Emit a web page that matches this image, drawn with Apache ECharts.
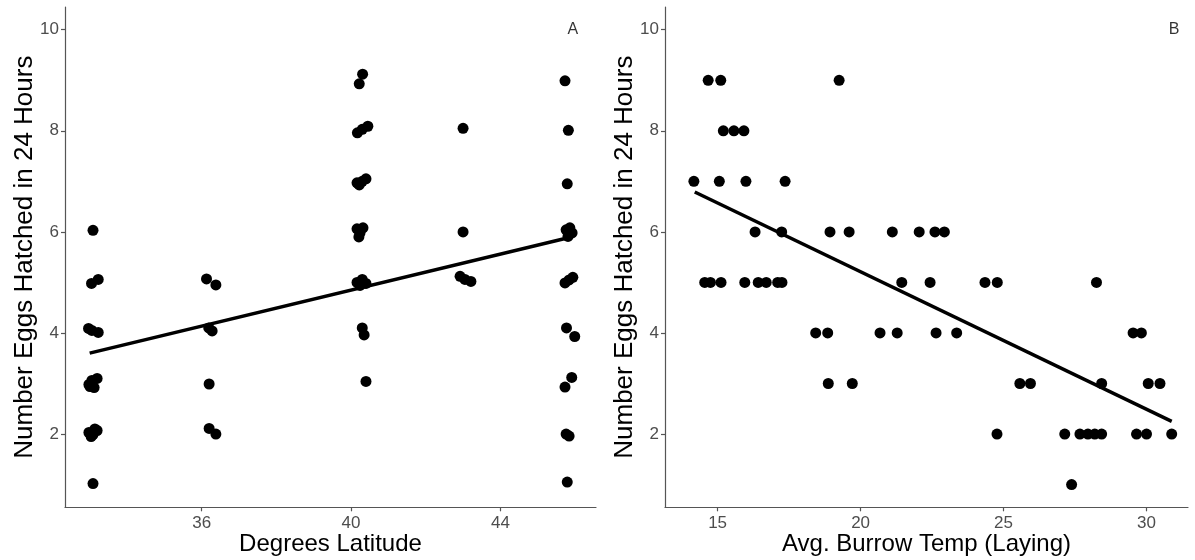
<!DOCTYPE html>
<html><head><meta charset="utf-8">
<script src="https://cdn.jsdelivr.net/npm/echarts@6/dist/echarts.min.js"></script>
<style>html,body{margin:0;padding:0;background:#fff}#c{width:1195px;height:560px}</style>
</head><body><div id="c"></div>
<script>
// Panel A: latitude vs eggs hatched
const latitude = [
  33.09, 33.05, 33.23, 32.97, 33.06, 33.23, 32.98, 33.06, 33.20, 33.12, 33.01,
  32.98, 33.09, 33.20, 33.04, 33.14, 33.09,
  36.13, 36.38, 36.19, 36.28, 36.20, 36.20, 36.38,
  40.31, 40.22, 40.17, 40.30, 40.45, 40.16, 40.30, 40.40, 40.22,
  40.16, 40.24, 40.21, 40.32, 40.16, 40.30, 40.40, 40.24, 40.30, 40.35, 40.40,
  43.00, 43.00, 42.92, 43.05, 43.21,
  45.73, 45.82, 45.79, 45.76, 45.92, 45.81, 45.86, 45.73, 45.94, 45.84,
  45.77, 45.99, 45.73, 45.91, 45.76, 45.84, 45.79
];
const latEggs = [
  6.03, 4.98, 5.06, 4.09, 4.05, 4.01, 2.98, 3.06, 3.10, 2.92, 2.94,
  2.03, 1.99, 2.07, 1.95, 2.10, 1.02,
  5.07, 4.95, 4.10, 4.04, 2.99, 2.11, 2.00,
  9.12, 8.93, 7.96, 8.03, 8.09, 6.97, 7.00, 7.05, 6.93,
  6.06, 5.98, 5.90, 6.08, 5.00, 5.06, 4.98, 4.94, 4.10, 3.96, 3.04,
  8.05, 6.00, 5.12, 5.06, 5.02,
  8.99, 8.01, 6.95, 6.04, 5.98, 5.91, 6.08, 4.99, 5.10, 5.05,
  4.10, 3.93, 2.93, 3.12, 2.00, 1.96, 1.05
];
const latFitX = [33.0, 45.9];
const latFitY = [3.6, 5.9];

// Panel B: burrow temperature vs eggs hatched
const burrowTemp = [
  14.67, 15.11, 19.25,
  15.20, 15.57, 15.92,
  14.17, 15.06, 15.99, 17.36,
  16.31, 17.24, 18.93, 19.60, 21.11, 22.05, 22.60, 22.93,
  14.55, 14.75, 15.12, 15.95, 16.42, 16.70, 17.10, 17.25, 21.44, 22.43, 24.35, 24.78, 28.25,
  18.43, 18.85, 20.68, 21.28, 22.64, 23.36, 29.53, 29.82,
  18.87, 19.71, 25.57, 25.94, 28.43, 30.06, 30.47,
  24.77, 27.14, 27.67, 27.95, 28.19, 28.43, 29.65, 30.00, 30.88,
  27.38
];
const tempEggs = [
  9, 9, 9,
  8, 8, 8,
  7, 7, 7, 7,
  6, 6, 6, 6, 6, 6, 6, 6,
  5, 5, 5, 5, 5, 5, 5, 5, 5, 5, 5, 5, 5,
  4, 4, 4, 4, 4, 4, 4, 4,
  3, 3, 3, 3, 3, 3, 3,
  2, 2, 2, 2, 2, 2, 2, 2, 2,
  1
];
const tempFitX = [14.2, 30.88];
const tempFitY = [6.79, 2.25];

// Tick labels
const yTicks = [2, 4, 6, 8, 10];
const latTicks = [36, 40, 44];
const tempTicks = [15, 20, 25, 30];
const panelTags = ['A', 'B'];

const font = "'Liberation Sans', Arial, Helvetica, sans-serif";
const pairs = (xs, ys) => xs.map((x, i) => [x, ys[i]]);

function xAxisDef(gi, min, max, ticks, name) {
  return {
    gridIndex: gi, type: 'value', min: min, max: max,
    splitLine: { show: false },
    axisLine: { lineStyle: { color: '#555', width: 1.2 } },
    axisTick: { length: 4, customValues: ticks, lineStyle: { color: '#555', width: 1.2 } },
    axisLabel: { customValues: ticks, color: '#4d4d4d', fontSize: 17, margin: 8, fontFamily: font },
    name: name, nameLocation: 'middle', nameGap: 25, nameMoveOverlap: false,
    nameTextStyle: { fontSize: 24, color: '#000', fontFamily: font }
  };
}
function yAxisDef(gi) {
  return {
    gridIndex: gi, type: 'value', min: 0.55, max: 10.45,
    splitLine: { show: false },
    axisLine: { lineStyle: { color: '#555', width: 1.2 } },
    axisTick: { length: 4, customValues: yTicks, lineStyle: { color: '#555', width: 1.2 } },
    axisLabel: { customValues: yTicks, color: '#4d4d4d', fontSize: 17, margin: 6, fontFamily: font },
    name: 'Number Eggs Hatched in 24 Hours', nameLocation: 'middle', nameGap: 27, nameMoveOverlap: false,
    nameTextStyle: { fontSize: 26, color: '#000', fontFamily: font }
  };
}
function pointSeries(gi, xs, ys) {
  return { type: 'scatter', xAxisIndex: gi, yAxisIndex: gi, data: pairs(xs, ys),
    symbolSize: 11, itemStyle: { color: '#000', opacity: 1 }, silent: true };
}
function fitSeries(gi, xs, ys) {
  return { type: 'line', xAxisIndex: gi, yAxisIndex: gi, data: pairs(xs, ys),
    showSymbol: false, symbol: 'none', lineStyle: { color: '#000', width: 3.5 }, silent: true, z: 3 };
}
function tagSeries(gi, x, tag) {
  return { type: 'scatter', xAxisIndex: gi, yAxisIndex: gi, data: [[x, 10]], symbolSize: 1,
    itemStyle: { color: 'rgba(0,0,0,0)' }, silent: true,
    label: { show: true, position: 'inside', formatter: tag, color: '#000', fontSize: 16, fontFamily: font } };
}

const chart = echarts.init(document.getElementById('c'));
chart.setOption({
  animation: false,
  backgroundColor: '#fff',
  grid: [
    { left: 65, top: 7, width: 531, height: 500.3, containLabel: false, outerBoundsMode: 'none' },
    { left: 665, top: 7, width: 523, height: 500.3, containLabel: false, outerBoundsMode: 'none' }
  ],
  xAxis: [
    xAxisDef(0, 32.34, 46.56, latTicks, 'Degrees Latitude'),
    xAxisDef(1, 13.16, 31.45, tempTicks, 'Avg. Burrow Temp (Laying)')
  ],
  yAxis: [yAxisDef(0), yAxisDef(1)],
  series: [
    pointSeries(0, latitude, latEggs),
    fitSeries(0, latFitX, latFitY),
    tagSeries(0, 45.94, panelTags[0]),
    pointSeries(1, burrowTemp, tempEggs),
    fitSeries(1, tempFitX, tempFitY),
    tagSeries(1, 30.96, panelTags[1])
  ]
});
</script></body></html>
